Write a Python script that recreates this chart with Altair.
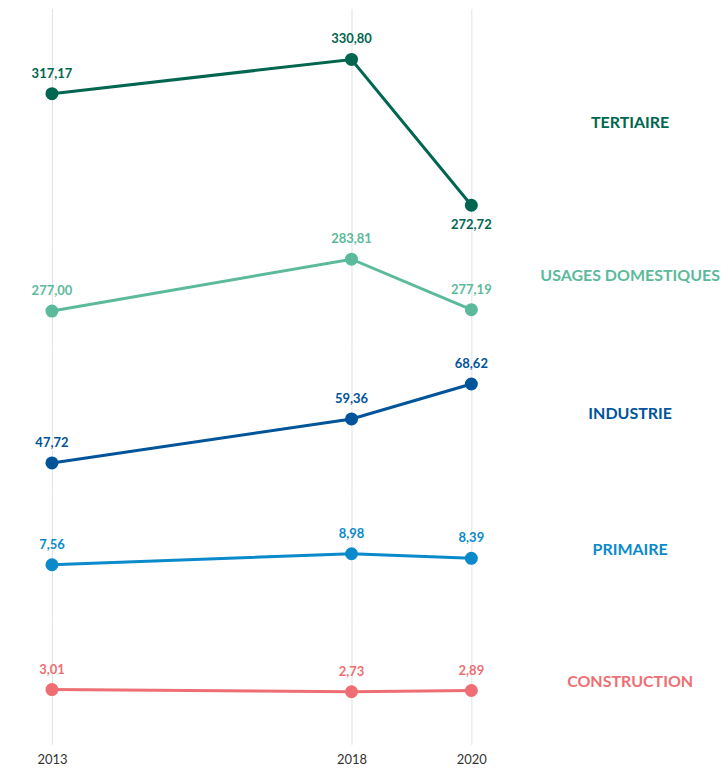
import altair as alt
import pandas as pd

years = [2013, 2018, 2020]
series = ["TERTIAIRE", "USAGES DOMESTIQUES", "INDUSTRIE", "PRIMAIRE", "CONSTRUCTION"]
tertiaire = [317.17, 330.80, 272.72]
usages = [277.00, 283.81, 277.19]
industrie = [47.72, 59.36, 68.62]
primaire = [7.56, 8.98, 8.39]
construction = [3.01, 2.73, 2.89]
colors = ["#00664F", "#5CBA9C", "#00549A", "#0A8ACB", "#EE6E73"]

values = [tertiaire, usages, industrie, primaire, construction]
rows = []
for s, vals in zip(series, values):
    for yr, v in zip(years, vals):
        rows.append({"serie": s, "annee": yr, "valeur": v})
df = pd.DataFrame(rows)

FONT = "Lato"
WIDTH = 700
x_domain = [2012.2667, 2012.2667 + WIDTH / 60]
# (y-domain, panel height) per series band
bands = [
    ([258.80, 351.09], 232),
    ([271.89, 286.30], 110),
    ([40.58, 77.615], 140),
    ([0.46, 17.24], 130),
    ([-4.13, 12.10], 125),
]

below = (alt.datum.serie == "TERTIAIRE") & (alt.datum.annee == 2020)


def panel(name, color, domain, h, last):
    axis = alt.Axis(values=years, format="d", grid=True, gridColor="#e2e2e2",
                    gridWidth=1, domain=False, ticks=False, labels=last,
                    labelFont=FONT, labelFontSize=13, labelColor="#333333",
                    labelPadding=9 if last else 0, title=None)
    x = alt.X("annee:Q", scale=alt.Scale(domain=x_domain, nice=False, zero=False), axis=axis)
    yscale = alt.Scale(domain=domain, nice=False, zero=False)
    y = alt.Y("valeur:Q", scale=yscale, axis=None)
    base = alt.Chart(df).transform_filter(alt.datum.serie == name).encode(x=x, y=y)
    line = base.mark_line(color=color, strokeWidth=3)
    pts = base.mark_circle(color=color, size=170, opacity=1)
    lab = base.transform_calculate(txt="replace(format(datum.valeur, '.2f'), '.', ',')")
    above = lab.transform_filter(~below).mark_text(
        font=FONT, fontSize=13, fontWeight="bold", color=color, dy=-20, baseline="middle"
    ).encode(text="txt:N")
    under = lab.transform_filter(below).mark_text(
        font=FONT, fontSize=13, fontWeight="bold", color=color, dy=20, baseline="middle"
    ).encode(text="txt:N")
    ser = base.transform_joinaggregate(
        vmin="min(valeur)", vmax="max(valeur)"
    ).transform_filter(alt.datum.annee == 2020).transform_calculate(
        mid="(datum.vmin + datum.vmax) / 2"
    ).mark_text(
        font=FONT, fontSize=16, fontWeight="bold", color=color, dx=159, dy=-9,
        align="center", baseline="middle"
    ).encode(y=alt.Y("mid:Q", scale=yscale, axis=None), text="serie:N")
    return alt.layer(line, pts, above, under, ser).properties(width=WIDTH, height=h)


panels = [
    panel(s, c, d, h, i == len(series) - 1)
    for i, (s, c, (d, h)) in enumerate(zip(series, colors, bands))
]

chart = alt.vconcat(*panels, spacing=0, bounds="flush").properties(
    padding=0
).configure_view(stroke=None)

chart.save("out.html", embed_options={"renderer": "svg", "actions": False})
